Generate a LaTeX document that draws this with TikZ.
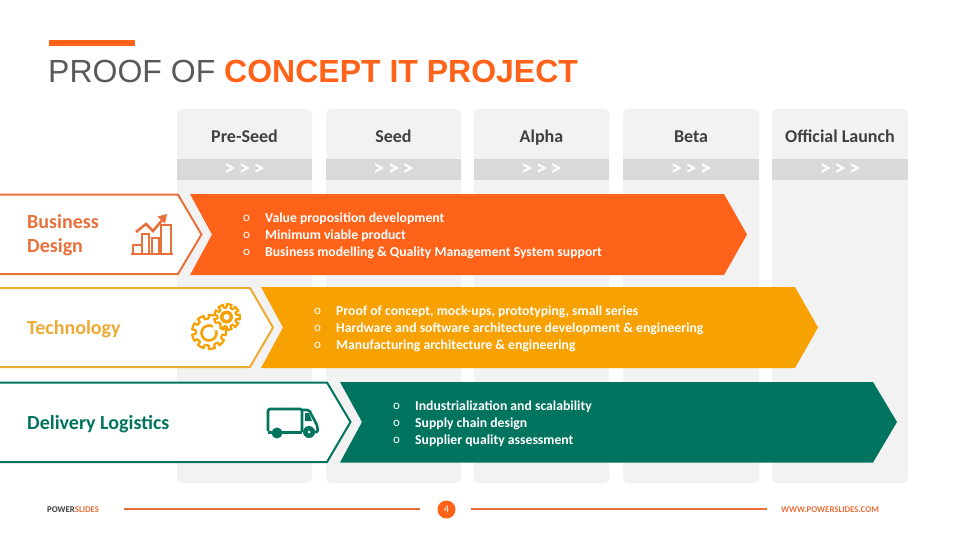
\documentclass[tikz,border=0pt]{standalone}
\usepackage{fontspec}
\setmainfont{Carlito}
\newfontfamily\titlefont{Liberation Sans}
\usetikzlibrary{positioning}
\definecolor{colbg}{HTML}{F2F2F2}
\definecolor{colband}{HTML}{D9D9D9}
\definecolor{ink}{HTML}{404040}
\definecolor{titlegray}{HTML}{595959}
\definecolor{org}{HTML}{FF6319}
\definecolor{orgline}{HTML}{E8703A}
\definecolor{yel}{HTML}{F7A103}
\definecolor{yelline}{HTML}{EDAB34}
\definecolor{grn}{HTML}{00745F}
\tikzset{
  col/.style={fill=colbg, rounded corners=5pt},
  band/.style={fill=colband},
  head/.style={font=\fontsize{18}{18}\selectfont\bfseries, text=ink, inner sep=0pt, anchor=base},
  arrs/.style={font=\fontsize{22}{22}\selectfont\bfseries, text=white, inner sep=0pt},
  lbl/.style={font=\fontsize{20}{24}\selectfont\bfseries, align=left, anchor=west, inner sep=0pt},
  dots/.style={font=\fontsize{13}{17}\selectfont, text=white, align=left, anchor=west, inner sep=0pt},
  items/.style={font=\fontsize{13.7}{17}\selectfont\bfseries, text=white, align=left, anchor=west, inner sep=0pt},
  foot/.style={font=\fontsize{8.8}{9}\selectfont\bfseries, inner sep=0pt},
  rule/.style={draw=orgline, line width=1.1pt},
}
\newcommand{\gearwheel}[5]{% x, y, outer radius, inner radius, teeth
  \draw[yel, line width=2.2pt, line join=round]
    \foreach \a in {1,...,#5} {
      (#1,#2) ++({360/#5*\a-360/#5*0.28}:#4) -- ++({360/#5*\a-360/#5*0.28}:#3-#4)
      arc[start angle={360/#5*\a-360/#5*0.28}, end angle={360/#5*\a+360/#5*0.28}, radius=#3]
      -- ++({360/#5*\a+360/#5*0.28}:#4-#3)
      arc[start angle={360/#5*\a+360/#5*0.28}, end angle={360/#5*\a+360/#5*0.72}, radius=#4]
    };
}
\begin{document}
\begin{tikzpicture}[x=1pt, y=-1pt]
\useasboundingbox (0,0) rectangle (960,540);
\fill[white] (0,0) rectangle (960,540);

% title
\fill[org] (49,40) rectangle (135,46);
\node[anchor=base west, inner sep=0pt, font=\titlefont\fontsize{32}{32}\selectfont] (title) at (48,82.5)
  {\textcolor{titlegray}{PROOF OF }\textcolor{org}{\bfseries CONCEPT IT PROJECT}};

% columns
\foreach \xa/\xb/\name in {177/312/Pre-Seed, 326/461/Seed, 474/609/Alpha, 623/759/Beta, 772/908/Official Launch} {
  \fill[col] (\xa,109) rectangle (\xb,483);
  \fill[band] (\xa,159) rectangle (\xb,180);
  \node[head] at ({(\xa+\xb)/2},143) {\name};
  \node[arrs] at ({(\xa+\xb)/2},170) {>\,>\,>};
}

% white tabs
\draw[orgline, fill=white, line width=2pt] (-3,194.7) -- (178,194.7) -- (201.5,234.5) -- (178,274) -- (-3,274) -- cycle;
\draw[yelline, fill=white, line width=2pt] (-3,288) -- (250,288) -- (273,327.5) -- (250,367) -- (-3,367) -- cycle;
\draw[grn, fill=white, line width=2pt] (-3,382.5) -- (327,382.5) -- (350.5,422) -- (327,462) -- (-3,462) -- cycle;

% coloured arrows
\fill[org] (190,194) -- (724,194) -- (747,234.5) -- (724,275) -- (190,275) -- (212,234.5) -- cycle;
\fill[yel] (261,287) -- (795,287) -- (818,327.5) -- (795,368) -- (261,368) -- (283,327.5) -- cycle;
\fill[grn] (340,382) -- (873,382) -- (897,422) -- (873,462.5) -- (340,462.5) -- (362,422) -- cycle;

% labels
\node[lbl, text=orgline] (bizlbl) at (27,235.5) {Business\\Design};
\node[lbl, text=yelline] (techlbl) at (27,329) {Technology};
\node[lbl, text=grn] (dellbl) at (27,424) {Delivery Logistics};

% lists
\node[dots] (bizdots) at (243,235.5) {o\\o\\o};
\node[items, right=14pt of bizdots.west, anchor=west, xshift=8pt] (bizitems)
  {Value proposition development\\Minimum viable product\\Business modelling \& Quality Management System support};
\node[dots] (techdots) at (314,328.5) {o\\o\\o};
\node[items, right=14pt of techdots.west, anchor=west, xshift=8pt] (techitems)
  {Proof of concept, mock-ups, prototyping, small series\\Hardware and software architecture development \& engineering\\Manufacturing architecture \& engineering};
\node[dots] (deldots) at (393,423.5) {o\\o\\o};
\node[items, right=14pt of deldots.west, anchor=west, xshift=8pt] (delitems)
  {Industrialization and scalability\\Supply chain design\\Supplier quality assessment};

% chart icon
\begin{scope}[orgline, line width=2pt]
  \draw[line width=2.4pt] (131,254) -- (173,254);
  \draw (133,254) -- (133,245) -- (142,245) -- (142,254);
  \draw (142,254) -- (142,234) -- (149,234) -- (149,254);
  \draw (152,254) -- (152,238) -- (159,238) -- (159,254);
  \draw (161,254) -- (161,225) -- (170.5,225) -- (170.5,254);
  \draw[line width=2.6pt] (136,232) -- (146,224) -- (153,231) -- (164,218);
  \fill (167,214) -- (157.5,216.5) -- (165,223.5) -- cycle;
\end{scope}

% gears icon
\gearwheel{209}{332}{17}{13.5}{9}
\fill[white] (221,318) circle (8);
\gearwheel{227}{317}{13}{9.5}{9}
\draw[yel, line width=2.6pt] (209,333) circle (7.5);
\fill[white] (216,327) circle (3.5);
\fill[yel] (226.5,317) circle (6.5);
\fill[white] (226.5,317) circle (3);

% truck icon
\begin{scope}[grn, line width=2.6pt, line join=round]
  \draw[rounded corners=1.5pt] (268,431) -- (268,409) -- (302,409) -- (302,432);
  \draw[rounded corners=1.5pt] (302,410) -- (309,410) -- (317,425) -- (318,432) -- (312,432);
  \draw[line width=3pt] (268,432) -- (302,432);
  \fill (305,413) -- (309,413) -- (312,421) -- (305,421) -- cycle;
  \fill (277,433) circle (5.5);
  \fill (309,432) circle (6);
  \fill[white] (309,432) circle (1.5);
\end{scope}

% footer
\node[foot, anchor=west] (brand) at (47,509.5) {\textcolor{ink}{POWER}\textcolor{orgline}{SLIDES}};
\node[circle, fill=org, minimum size=18pt, inner sep=0pt, text=white, font=\fontsize{10}{10}\selectfont] (pagenum) at (446.5,509.5) {4};
\coordinate (ruleA) at (124,509);
\coordinate (ruleB) at (420,509);
\coordinate (ruleC) at (471,509);
\coordinate (ruleD) at (767,509);
\draw[rule] (ruleA) -- (ruleB);
\draw[rule] (ruleC) -- (ruleD);
\node[foot, anchor=west, text=orgline] (site) at (781,509.5) {WWW.POWERSLIDES.COM};
\end{tikzpicture}
\end{document}
